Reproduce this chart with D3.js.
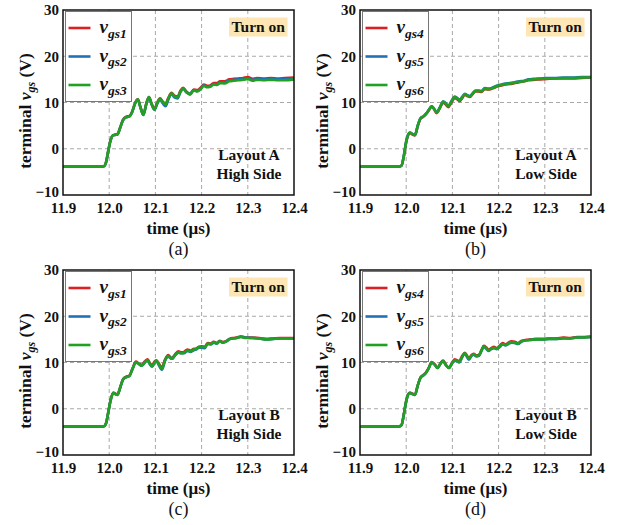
<!DOCTYPE html>
<html><head><meta charset="utf-8">
<script src="https://cdn.jsdelivr.net/npm/d3@7"></script>
<style>body{margin:0;background:#fff}svg{display:block}</style>
</head><body>
<script>
// ---------- data ----------
const xTickValues = [11.9, 12.0, 12.1, 12.2, 12.3, 12.4];
const yTickValues = [-10, 0, 10, 20, 30];
const seriesColors = ["#d92023", "#1f72b8", "#22a022"];

const tA = [11.900, 11.988, 11.993, 11.998, 12.003, 12.008, 12.012, 12.018, 12.024, 12.030, 12.036, 12.044, 12.050, 12.056, 12.062, 12.068, 12.074, 12.080, 12.086, 12.092, 12.098, 12.104, 12.110, 12.116, 12.122, 12.128, 12.135, 12.141, 12.148, 12.154, 12.160, 12.167, 12.175, 12.183, 12.191, 12.198, 12.205, 12.212, 12.219, 12.226, 12.233, 12.240, 12.250, 12.260, 12.270, 12.280, 12.290, 12.300, 12.310, 12.320, 12.335, 12.350, 12.365, 12.380, 12.400];
const vgs1_A = [-3.8, -3.8, -3.0, -0.4, 1.9, 2.9, 3.0, 3.2, 4.7, 6.3, 6.9, 7.1, 8.1, 9.9, 10.7, 8.9, 7.4, 9.7, 11.2, 9.7, 8.6, 10.0, 10.9, 10.2, 9.7, 11.0, 12.1, 11.5, 11.3, 12.5, 13.2, 12.4, 11.9, 12.8, 12.7, 13.2, 13.9, 13.6, 13.7, 14.2, 14.2, 14.6, 14.6, 15.0, 15.1, 15.2, 15.3, 15.5, 15.1, 15.3, 15.2, 15.3, 15.2, 15.3, 15.4];
const vgs2_A = [-3.8, -3.8, -3.0, -0.5, 1.8, 2.9, 3.0, 3.1, 4.6, 6.2, 6.8, 7.0, 8.0, 9.8, 10.6, 8.8, 7.3, 9.5, 11.1, 9.5, 8.4, 9.7, 10.6, 9.8, 9.2, 10.6, 11.9, 11.1, 10.9, 12.2, 13.0, 12.2, 11.8, 12.7, 12.5, 13.0, 13.7, 13.4, 13.5, 14.0, 13.9, 14.3, 14.3, 14.8, 14.9, 15.0, 15.1, 15.2, 14.9, 15.1, 15.0, 15.1, 15.0, 15.0, 15.1];
const vgs3_A = [-3.8, -3.8, -3.0, -0.5, 1.8, 2.9, 3.0, 3.1, 4.6, 6.2, 6.8, 7.0, 8.0, 9.8, 10.7, 8.8, 7.3, 9.6, 11.2, 9.6, 8.5, 9.9, 10.8, 10.1, 9.6, 10.9, 12.0, 11.3, 11.1, 12.3, 13.0, 12.2, 11.7, 12.6, 12.4, 12.9, 13.6, 13.3, 13.4, 13.9, 13.8, 14.2, 14.1, 14.6, 14.7, 14.8, 14.9, 15.1, 14.7, 14.9, 14.8, 14.9, 14.8, 14.8, 15.0];

const tB = [11.900, 11.985, 11.990, 11.995, 12.000, 12.004, 12.008, 12.013, 12.019, 12.025, 12.031, 12.037, 12.043, 12.049, 12.055, 12.060, 12.066, 12.073, 12.080, 12.085, 12.091, 12.098, 12.105, 12.110, 12.116, 12.121, 12.127, 12.132, 12.138, 12.144, 12.150, 12.157, 12.163, 12.170, 12.177, 12.184, 12.191, 12.198, 12.206, 12.215, 12.225, 12.235, 12.245, 12.255, 12.265, 12.275, 12.290, 12.305, 12.320, 12.340, 12.360, 12.380, 12.400];
const vgs4_B = [-3.8, -3.8, -3.6, -1.6, 1.4, 2.9, 3.4, 3.1, 2.9, 4.9, 6.5, 6.9, 7.5, 8.3, 9.1, 8.6, 7.7, 8.8, 10.0, 9.6, 9.0, 10.0, 11.0, 10.7, 10.3, 10.9, 11.7, 11.4, 11.2, 11.8, 12.4, 12.4, 12.3, 12.9, 12.8, 12.9, 13.2, 13.5, 13.7, 13.9, 14.0, 14.2, 14.4, 14.6, 14.8, 14.9, 15.0, 15.1, 15.2, 15.2, 15.2, 15.3, 15.4];
const vgs5_B = [-3.8, -3.8, -3.6, -1.4, 1.6, 3.0, 3.5, 3.2, 3.0, 5.0, 6.6, 7.0, 7.6, 8.4, 9.2, 8.7, 7.9, 9.0, 10.2, 9.9, 9.3, 10.3, 11.3, 11.0, 10.6, 11.2, 11.9, 11.6, 11.4, 12.0, 12.6, 12.6, 12.5, 13.1, 13.0, 13.1, 13.4, 13.7, 13.9, 14.1, 14.2, 14.4, 14.6, 14.7, 15.0, 15.1, 15.2, 15.3, 15.3, 15.4, 15.4, 15.5, 15.5];
const vgs6_B = [-3.8, -3.8, -3.6, -1.5, 1.5, 3.0, 3.5, 3.2, 3.0, 5.0, 6.6, 7.0, 7.6, 8.4, 9.2, 8.7, 7.8, 8.9, 10.2, 9.8, 9.2, 10.2, 11.2, 10.9, 10.5, 11.1, 11.8, 11.5, 11.3, 11.9, 12.5, 12.5, 12.4, 13.0, 12.9, 13.0, 13.3, 13.6, 13.8, 14.0, 14.1, 14.3, 14.5, 14.6, 14.9, 15.0, 15.1, 15.2, 15.2, 15.3, 15.3, 15.4, 15.4];

const tC = [11.900, 11.988, 11.993, 11.998, 12.003, 12.009, 12.013, 12.018, 12.024, 12.030, 12.036, 12.044, 12.050, 12.058, 12.064, 12.070, 12.077, 12.083, 12.088, 12.093, 12.098, 12.102, 12.108, 12.114, 12.121, 12.128, 12.132, 12.136, 12.143, 12.150, 12.156, 12.162, 12.169, 12.176, 12.182, 12.188, 12.194, 12.200, 12.207, 12.213, 12.220, 12.226, 12.233, 12.239, 12.246, 12.253, 12.260, 12.268, 12.276, 12.285, 12.295, 12.310, 12.325, 12.340, 12.355, 12.370, 12.385, 12.400];
const vgs1_C = [-3.8, -3.8, -3.2, -0.7, 1.9, 3.5, 3.3, 3.1, 4.7, 6.4, 6.9, 7.2, 8.6, 10.2, 9.8, 9.5, 10.2, 10.7, 9.9, 9.4, 10.2, 10.5, 9.7, 8.9, 10.7, 11.6, 11.2, 11.0, 11.8, 12.4, 12.2, 12.3, 12.8, 12.6, 12.9, 13.0, 13.4, 13.5, 13.4, 14.2, 14.1, 14.5, 14.2, 14.7, 14.4, 14.6, 15.1, 15.3, 15.4, 15.6, 15.4, 15.4, 15.3, 15.1, 15.2, 15.3, 15.3, 15.3];
const vgs2_C = [-3.8, -3.8, -3.2, -0.8, 1.8, 3.4, 3.2, 3.0, 4.6, 6.3, 6.8, 7.1, 8.5, 10.0, 9.7, 9.3, 10.0, 10.5, 9.6, 9.1, 9.9, 10.3, 9.3, 8.4, 10.4, 11.3, 11.0, 10.8, 11.6, 12.1, 12.0, 12.0, 12.5, 12.3, 12.6, 12.8, 13.2, 13.2, 13.1, 14.0, 13.9, 14.3, 14.1, 14.6, 14.3, 14.5, 15.0, 15.2, 15.3, 15.6, 15.4, 15.3, 15.2, 15.0, 15.1, 15.2, 15.2, 15.2];
const vgs3_C = [-3.8, -3.8, -3.2, -0.8, 1.8, 3.4, 3.2, 3.0, 4.6, 6.3, 6.8, 7.1, 8.5, 10.0, 9.7, 9.3, 10.0, 10.5, 9.7, 9.2, 10.0, 10.4, 9.5, 8.6, 10.5, 11.4, 11.0, 10.8, 11.6, 12.2, 12.0, 12.1, 12.6, 12.4, 12.8, 12.9, 13.3, 13.4, 13.3, 14.1, 14.0, 14.4, 14.1, 14.6, 14.3, 14.5, 15.0, 15.2, 15.3, 15.5, 15.3, 15.3, 15.2, 15.0, 15.1, 15.2, 15.2, 15.2];

const tD = [11.900, 11.985, 11.990, 11.995, 12.000, 12.004, 12.008, 12.013, 12.019, 12.025, 12.031, 12.037, 12.043, 12.049, 12.055, 12.061, 12.068, 12.074, 12.080, 12.086, 12.093, 12.099, 12.105, 12.110, 12.115, 12.121, 12.127, 12.132, 12.136, 12.141, 12.146, 12.152, 12.158, 12.163, 12.168, 12.173, 12.178, 12.184, 12.190, 12.196, 12.202, 12.209, 12.215, 12.221, 12.228, 12.235, 12.242, 12.250, 12.260, 12.270, 12.280, 12.295, 12.310, 12.325, 12.340, 12.355, 12.370, 12.385, 12.400];
const vgs4_D = [-3.8, -3.8, -3.5, -1.1, 1.7, 3.1, 3.5, 3.3, 3.1, 5.1, 6.8, 7.3, 7.9, 8.9, 10.1, 9.7, 8.9, 9.8, 10.4, 9.5, 8.9, 9.9, 10.7, 10.5, 10.3, 11.4, 12.1, 11.4, 10.9, 11.6, 11.9, 11.5, 11.7, 12.7, 13.6, 13.3, 12.8, 13.1, 13.4, 13.1, 13.6, 14.2, 13.9, 14.3, 14.6, 14.5, 14.2, 14.7, 14.9, 15.0, 15.1, 15.1, 15.2, 15.2, 15.4, 15.3, 15.5, 15.5, 15.6];
const vgs5_D = [-3.8, -3.8, -3.5, -1.2, 1.6, 3.0, 3.4, 3.2, 3.0, 5.0, 6.7, 7.2, 7.8, 8.8, 10.0, 9.6, 8.8, 9.7, 10.3, 9.4, 8.8, 9.8, 10.4, 10.2, 10.0, 11.1, 11.9, 11.1, 10.6, 11.4, 11.7, 11.3, 11.5, 12.5, 13.4, 13.0, 12.5, 12.9, 13.1, 12.9, 13.3, 13.9, 13.7, 14.0, 14.3, 14.2, 14.0, 14.5, 14.8, 14.9, 15.0, 15.0, 15.1, 15.1, 15.2, 15.2, 15.4, 15.4, 15.5];
const vgs6_D = [-3.8, -3.8, -3.5, -1.2, 1.6, 3.0, 3.4, 3.2, 3.0, 5.0, 6.7, 7.2, 7.8, 8.8, 10.0, 9.6, 8.8, 9.7, 10.3, 9.4, 8.8, 9.8, 10.5, 10.3, 10.1, 11.2, 12.0, 11.3, 10.8, 11.5, 11.8, 11.4, 11.6, 12.6, 13.5, 13.1, 12.6, 13.0, 13.2, 13.0, 13.4, 14.0, 13.8, 14.1, 14.4, 14.3, 14.1, 14.6, 14.8, 14.9, 15.0, 15.0, 15.1, 15.1, 15.3, 15.2, 15.4, 15.4, 15.5];

const panelCaptions = ["(a)", "(b)", "(c)", "(d)"];
const legendSubs = [["gs1","gs2","gs3"], ["gs4","gs5","gs6"], ["gs1","gs2","gs3"], ["gs4","gs5","gs6"]];
const layoutNotes = [["Layout A","High Side"], ["Layout A","Low Side"], ["Layout B","High Side"], ["Layout B","Low Side"]];
const panelTimes = [tA, tB, tC, tD];
const panelSeries = [[vgs1_A, vgs2_A, vgs3_A], [vgs4_B, vgs5_B, vgs6_B], [vgs1_C, vgs2_C, vgs3_C], [vgs4_D, vgs5_D, vgs6_D]];

// ---------- layout ----------
const W = 624, H = 525;
const origins = [[63, 10], [360, 10], [63, 270], [360, 270]];
const pw = 231, ph = 185;
const serif = "'Liberation Serif','Times New Roman',serif";

const svg = d3.select("body").append("svg").attr("width", W).attr("height", H)
  .style("font-family", serif);

panelTimes.forEach((times, pi) => {
  const [ox, oy] = origins[pi];
  const g = svg.append("g").attr("transform", `translate(${ox},${oy})`);
  const x = d3.scaleLinear().domain([11.9, 12.4]).range([0, pw]);
  const y = d3.scaleLinear().domain([-10, 30]).range([ph, 0]);

  // grid
  const grid = g.append("g").attr("stroke", "#a8a8a8").attr("stroke-width", 1).attr("stroke-dasharray", "4,3");
  xTickValues.slice(1, -1).forEach(v => grid.append("line")
    .attr("x1", x(v)).attr("x2", x(v)).attr("y1", 0).attr("y2", ph));
  yTickValues.slice(1, -1).forEach(v => grid.append("line")
    .attr("x1", 0).attr("x2", pw).attr("y1", y(v)).attr("y2", y(v)));

  // axes (labels only, no tick marks)
  const xAxis = g.append("g").attr("transform", `translate(0,${ph})`)
    .call(d3.axisBottom(x).tickValues(xTickValues).tickFormat(d3.format(".1f")).tickSize(0).tickPadding(7));
  xAxis.select(".domain").remove();
  xAxis.selectAll("text").attr("font-family", serif).attr("font-size", 15).attr("font-weight", "bold").attr("fill", "#111");
  const yAxis = g.append("g")
    .call(d3.axisLeft(y).tickValues(yTickValues).tickFormat(d3.format("d")).tickSize(0).tickPadding(4));
  yAxis.select(".domain").remove();
  yAxis.selectAll("text").attr("font-family", serif).attr("font-size", 15).attr("font-weight", "bold").attr("fill", "#111")
    .attr("dy", d => d === -10 ? "0.1em" : "0.32em");

  // clip
  const clipId = "clip" + pi;
  g.append("clipPath").attr("id", clipId).append("rect").attr("width", pw).attr("height", ph);

  // lines
  const seriesList = panelSeries[pi];
  const line = d3.line().defined(d => d[1] != null)
    .x(d => x(d[0])).y(d => y(d[1])).curve(d3.curveMonotoneX);
  const lg = g.append("g").attr("clip-path", `url(#${clipId})`);
  seriesList.forEach((vals, si) => {
    const pts = times.map((t, i) => [t, vals[i]]);
    lg.append("path").datum(pts).attr("d", line)
      .attr("fill", "none").attr("stroke", seriesColors[si]).attr("stroke-width", 2.6)
      .attr("stroke-linejoin", "round");
  });

  // frame
  g.append("rect").attr("width", pw).attr("height", ph).attr("fill", "none")
    .attr("stroke", "#111").attr("stroke-width", 1.5);

  // legend
  const leg = g.append("g").attr("transform", "translate(2.5,1.5)");
  leg.append("rect").attr("width", 66).attr("height", 90).attr("fill", "#fff")
    .attr("stroke", "#777").attr("stroke-width", 1);
  legendSubs[pi].forEach((sub, si) => {
    const ry = 16.5 + si * 28.5;
    leg.append("line").attr("x1", 3).attr("x2", 25).attr("y1", ry).attr("y2", ry)
      .attr("stroke", seriesColors[si]).attr("stroke-width", 2.6);
    const tx = leg.append("text").attr("x", 34).attr("y", ry + 5)
      .attr("font-weight", "bold").attr("font-style", "italic").attr("fill", "#111");
    tx.append("tspan").attr("font-size", 19).text("v");
    tx.append("tspan").attr("font-size", 13.5).attr("dy", 4.5).text(sub);
  });

  // Turn on box
  const tb = g.append("g").attr("transform", `translate(${pw - 65},${7.5})`);
  tb.append("rect").attr("width", 58.5).attr("height", 19).attr("fill", "#fde6b4");
  tb.append("text").attr("x", 29.25).attr("y", 14.8).attr("text-anchor", "middle")
    .attr("font-size", 15.5).attr("font-weight", "bold").attr("fill", "#111").text("Turn on");

  // layout notes
  layoutNotes[pi].forEach((s, li) => {
    g.append("text").attr("x", pw - 45).attr("y", 150 + li * 18.5).attr("text-anchor", "middle")
      .attr("font-size", 15.5).attr("font-weight", "bold").attr("fill", "#111").text(s);
  });

  // x title
  g.append("text").attr("x", pw / 2).attr("y", ph + 38.5).attr("text-anchor", "middle")
    .attr("font-size", 17).attr("font-weight", "bold").attr("fill", "#111").text("time (μs)");

  // y title
  const yt = g.append("text").attr("transform", `translate(-32,${101}) rotate(-90)`)
    .attr("text-anchor", "middle").attr("font-size", 17.5).attr("font-weight", "bold").attr("fill", "#111");
  yt.append("tspan").text("terminal ");
  yt.append("tspan").attr("font-style", "italic").text("v");
  yt.append("tspan").attr("font-style", "italic").attr("font-size", 12).attr("dy", 4).text("gs");
  yt.append("tspan").attr("dy", -4).text(" (V)");

  // caption
  g.append("text").attr("x", pw / 2).attr("y", ph + 59.5).attr("text-anchor", "middle")
    .attr("font-size", 18).attr("fill", "#111").text(panelCaptions[pi]);
});
</script>
</body></html>
